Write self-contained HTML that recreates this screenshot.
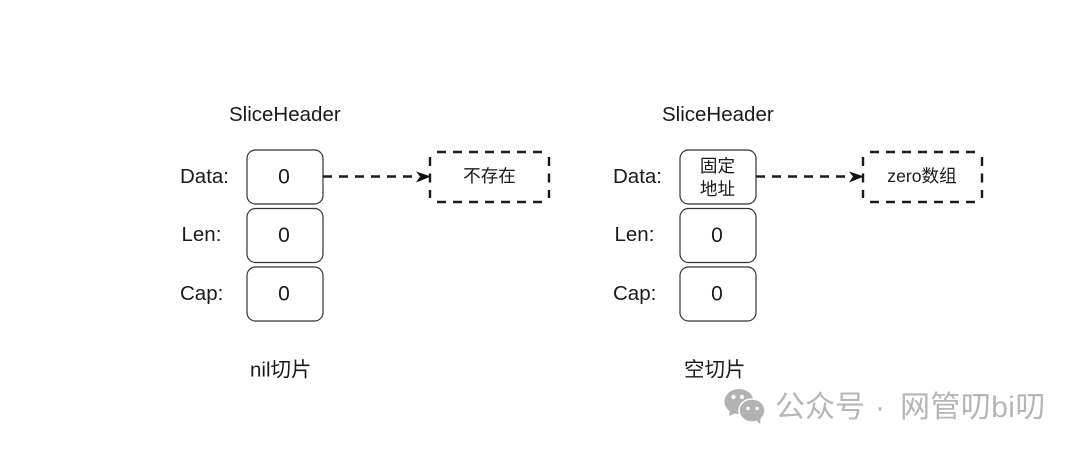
<!DOCTYPE html>
<html>
<head>
<meta charset="utf-8">
<style>
html,body{margin:0;padding:0;background:#fff;width:1080px;height:450px;overflow:hidden}
svg{display:block}
text{font-family:"Liberation Sans","Noto Sans CJK SC",sans-serif;fill:#1a1a1a}
.l{font-size:20.5px}
.z{font-size:21px;text-anchor:middle}
.c{font-size:17.6px;text-anchor:middle}
.w{font-size:30px;fill:#b6b6b6}
rect.b{fill:#fff;stroke:#333;stroke-width:1.2}
.d{fill:none;stroke:#1a1a1a;stroke-width:2.4;stroke-dasharray:9 7}
.s{fill:none;stroke:#1a1a1a;stroke-width:2.4;stroke-dasharray:9 7.500}
.a{fill:#111}
</style>
</head>
<body>
<svg width="1080" height="450" viewBox="0 0 1080 450" xmlns="http://www.w3.org/2000/svg">
<rect width="1080" height="450" fill="#fff"/>

<!-- Left diagram -->
<text class="l" x="229" y="121">SliceHeader</text>
<text class="l" x="180" y="183">Data:</text>
<text class="l" x="181.500" y="241">Len:</text>
<text class="l" x="180" y="300">Cap:</text>
<rect class="b" x="247" y="150" width="76" height="54" rx="8.500"/>
<rect class="b" x="247" y="208.500" width="76" height="54" rx="8.500"/>
<rect class="b" x="247" y="267" width="76" height="54" rx="8.500"/>
<text class="z" x="284" y="183.500">0</text>
<text class="z" x="284" y="242">0</text>
<text class="z" x="284" y="300.500">0</text>
<line class="d" x1="323" y1="176.500" x2="416" y2="176.500"/>
<path class="a" d="M416 171.500 L431 176.500 L416 182.500 L420 176.500 Z"/>
<line class="d" x1="437" y1="152" x2="544" y2="152"/>
<line class="d" x1="437" y1="202" x2="544" y2="202"/>
<line class="s" x1="430" y1="157" x2="430" y2="198"/>
<line class="s" x1="549" y1="157" x2="549" y2="198"/>
<text class="c" x="489.500" y="182">不存在</text>
<text class="l" x="250" y="376.500">nil切片</text>

<!-- Right diagram -->
<text class="l" x="662" y="121">SliceHeader</text>
<text class="l" x="613" y="183">Data:</text>
<text class="l" x="614.500" y="241">Len:</text>
<text class="l" x="613" y="300">Cap:</text>
<rect class="b" x="680" y="150" width="76" height="54" rx="8.500"/>
<rect class="b" x="680" y="208.500" width="76" height="54" rx="8.500"/>
<rect class="b" x="680" y="267" width="76" height="54" rx="8.500"/>
<text class="c" x="717.500" y="172">固定</text>
<text class="c" x="717.500" y="195">地址</text>
<text class="z" x="717" y="242">0</text>
<text class="z" x="717" y="300.500">0</text>
<line class="d" x1="756" y1="176.500" x2="849" y2="176.500"/>
<path class="a" d="M849 171.500 L864 176.500 L849 182.500 L853 176.500 Z"/>
<line class="d" x1="870" y1="152" x2="977" y2="152"/>
<line class="d" x1="870" y1="202" x2="977" y2="202"/>
<line class="s" x1="863" y1="157" x2="863" y2="198"/>
<line class="s" x1="982" y1="157" x2="982" y2="198"/>
<text class="c" x="922" y="182">zero数组</text>
<text class="l" x="684" y="376.500">空切片</text>

<!-- Watermark -->
<g fill="#b2b2b2">
<ellipse cx="739" cy="401.500" rx="14.500" ry="12.500"/>
<path d="M730 410 L729 416 L738 412 Z"/>
<ellipse cx="752" cy="410.500" rx="13" ry="11.500" stroke="#fff" stroke-width="1.500"/>
<path d="M756 420 L760 424 L761 416 Z"/>
</g>
<circle cx="733.500" cy="397" r="2.200" fill="#fff"/>
<circle cx="742" cy="397" r="2.200" fill="#fff"/>
<circle cx="748" cy="408.500" r="1.800" fill="#fff"/>
<circle cx="757" cy="408.500" r="1.800" fill="#fff"/>
<text class="w" x="775" y="417">公众号</text>
<text class="w" x="875" y="417">·</text>
<text class="w" x="900" y="417" letter-spacing="0.400">网管叨bi叨</text>
</svg>
</body>
</html>
